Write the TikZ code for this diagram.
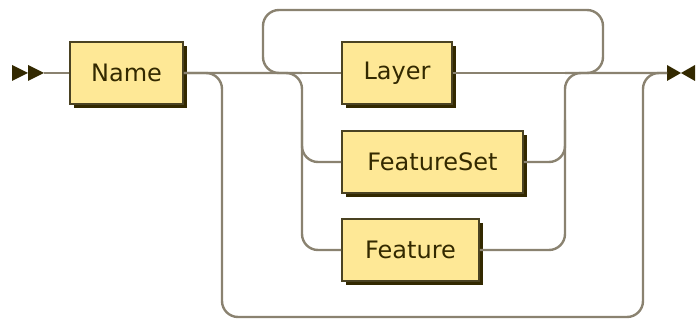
\documentclass[tikz,border=0pt]{standalone}
\usepackage{fontspec}
\setmainfont{DejaVu Sans}
\definecolor{boxfill}{RGB}{254,232,150}
\definecolor{boxdraw}{RGB}{74,66,34}
\definecolor{boxshade}{RGB}{51,41,0}
\definecolor{trackc}{RGB}{138,130,112}
\usetikzlibrary{shadows, positioning}
\tikzset{
	nonterm/.style={rectangle, draw=boxdraw, fill=boxfill, line width=1.6pt, text=boxshade, minimum height=62pt, inner sep=0pt, font=\fontsize{24}{28}\selectfont, drop shadow={shadow xshift=4pt, shadow yshift=-4pt, opacity=1, fill=boxshade}},
	track/.style={draw=trackc, line width=2.4pt, rounded corners=16pt},
	marker/.style={fill=boxshade, draw=none},
}

\begin{document}
\begin{tikzpicture}[x=1pt, y=-1pt]
		\useasboundingbox (0,0) rectangle (697,320);
		\node[nonterm, minimum width=113pt] (name) at (126.5,73) {Name};
		\node[nonterm, minimum width=110pt] (layer) at (397,73) {Layer};
		\node[nonterm, minimum width=181pt] (fs) at (432.5,162) {FeatureSet};
		\node[nonterm, minimum width=137pt] (feat) at (410.5,250) {Feature};
		\coordinate (start) at (44,73);
		\coordinate (finish) at (667,73);
		\coordinate (skipL) at (222,73);
		\coordinate (skipB) at (430,317);
		\coordinate (skipR) at (643,73);
		\coordinate (chL) at (302,73);
		\coordinate (chLm) at (302,120);
		\coordinate (chR) at (565,73);
		\coordinate (chRm) at (565,120);
		\coordinate (loopL) at (263,73);
		\coordinate (loopR) at (603,73);
		\coordinate (loopT) at (430,10);
		% start and end markers
		\fill[marker] (12,65) -- (12,81) -- (28,73) -- cycle;
		\fill[marker] (28,65) -- (28,81) -- (44,73) -- cycle;
		\fill[marker] (667,65) -- (667,81) -- (681,73) -- cycle;
		\fill[marker] (695,65) -- (695,81) -- (681,73) -- cycle;
		% main line
		\draw[track] (start) -- (name);
		\draw[track] (name.east) -- (layer.west);
		\draw[track] (layer.east) -- (finish);
		% bypass
		\draw[track] (name.east) -- (skipL) |- (skipB) -| (skipR) -- (finish);
		% choice
		\draw[track] (name.east) -- (chL) |- (feat.west);
		\draw[track] (chLm) |- (fs.west);
		\draw[track] (feat.east) -| (chR) -- (finish);
		\draw[track] (fs.east) -| (chRm);
		% loop back
		\draw[track] (chR) -- (loopR) |- (loopT) -| (loopL) -- (chL);
	\end{tikzpicture}
\end{document}
